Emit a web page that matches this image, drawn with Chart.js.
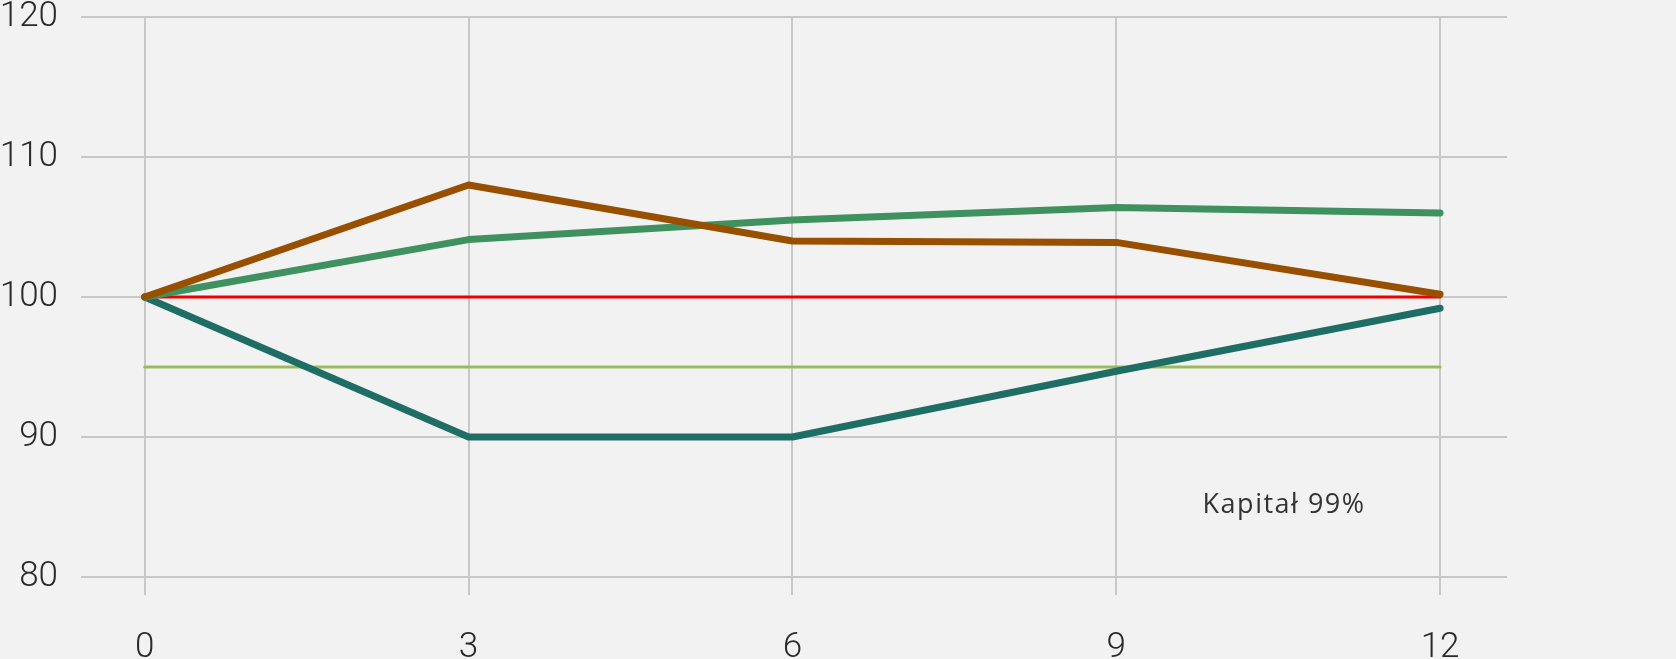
<!DOCTYPE html>
<html>
<head>
<meta charset="utf-8">
<script src="https://cdn.jsdelivr.net/npm/chart.js@4"></script>
<style>
  html, body { margin: 0; padding: 0; background: #f2f2f2; overflow: hidden; }
  #wrap { width: 1676px; height: 700px; }
</style>
</head>
<body>
<div id="wrap"><canvas id="wykres" width="1676" height="700"></canvas></div>
<script>
const miesiace = [0, 3, 6, 9, 12];
const seria_brazowa = [100, 108.0, 104.0, 103.9, 100.2];
const seria_zielona = [100, 104.1, 105.5, 106.4, 106.0];
const seria_morska = [100, 90.0, 90.0, 94.7, 99.2];
const linia_100 = [100, 100, 100, 100, 100];
const linia_95 = [95, 95, 95, 95, 95];
const ticki_y = [80, 90, 100, 110, 120];
const podpis = 'Kapitał 99%';

function punkty(wartosci) {
    return miesiace.map((m, i) => ({ x: m, y: wartosci[i] }));
}

const podpisPlugin = {
    id: 'podpis',
    afterDatasetsDraw(chart) {
        const c = chart.ctx;
        const xs = chart.scales.x, ys = chart.scales.y;
        c.save();
        c.font = '400 27px "Open Sans"';
        c.letterSpacing = '1.5px';
        c.fillStyle = '#333333';
        c.textBaseline = 'alphabetic';
        c.textAlign = 'left';
        c.fillText(podpis, xs.getPixelForValue(9.8), ys.getPixelForValue(84.6));
        c.restore();
    }
};

const ctx = document.getElementById('wykres');
const grafico = new Chart(ctx, {
    type: 'line',
    data: {
        datasets: [
            { data: punkty(seria_brazowa), borderColor: '#994f00', borderWidth: 7, order: 1 },
            { data: punkty(seria_zielona), borderColor: '#3f915f', borderWidth: 7, order: 2 },
            { data: punkty(seria_morska), borderColor: '#1f6e66', borderWidth: 7, order: 3 },
            { data: punkty(linia_100), borderColor: '#ee0000', borderWidth: 3, order: 4 },
            { data: punkty(linia_95), borderColor: '#9bbb59', borderWidth: 3, order: 5 }
        ]
    },
    options: {
        responsive: false,
        animation: false,
        layout: { padding: { top: 17, right: 169, left: 0, bottom: 0 } },
        elements: {
            point: { radius: 0 },
            line: { tension: 0, borderCapStyle: 'round', borderJoinStyle: 'round', fill: false }
        },
        plugins: { legend: { display: false }, tooltip: { enabled: false } },
        scales: {
            x: {
                type: 'linear',
                min: -0.59,
                max: 12.62,
                afterBuildTicks: (axis) => { axis.ticks = miesiace.map(v => ({ value: v })); },
                afterFit: (axis) => { axis.height = 123; axis.paddingLeft = 0; axis.paddingRight = 0; },
                border: { display: false },
                grid: { color: '#c8c8c8', lineWidth: 2, tickLength: 18, drawTicks: true },
                ticks: { color: '#2a2a2a', font: { family: 'Roboto', size: 35, weight: 300 }, padding: 32, maxRotation: 0 }
            },
            y: {
                min: 80,
                max: 120,
                afterBuildTicks: (axis) => { axis.ticks = ticki_y.map(v => ({ value: v })); },
                afterFit: (axis) => { axis.width = 81; axis.paddingTop = 0; axis.paddingBottom = 0; },
                border: { display: false },
                grid: { color: '#c8c8c8', lineWidth: 2, drawTicks: false },
                ticks: { color: '#2a2a2a', font: { family: 'Roboto', size: 35, weight: 300 }, padding: 23 }
            }
        }
    },
    plugins: [podpisPlugin]
});
</script>
</body>
</html>
